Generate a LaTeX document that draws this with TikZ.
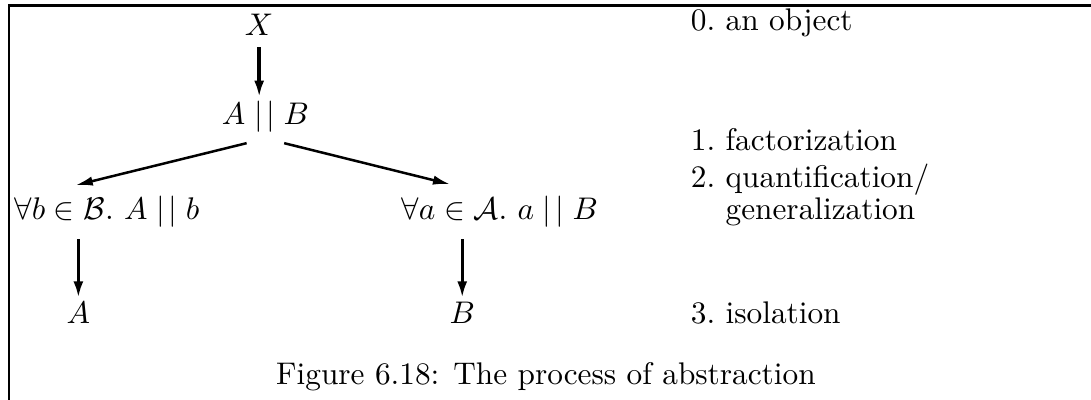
\documentclass[tikz,border=0pt]{standalone}
\usetikzlibrary{arrows.meta}
\newcommand{\bars}{\mathrel{|\mkern2mu|}}

\begin{document}
\begin{tikzpicture}[x=1cm,y=1cm,
  lbl/.style={anchor=base,inner sep=1pt},
  note/.style={anchor=base west,inner sep=0pt},
  vec/.style={-{Latex[length=5.4pt,width=3.2pt]},line width=1.1pt,shorten <=2.5pt},
  fan/.style={-{Latex[length=5.5pt,width=3pt]},line width=0.8pt}]
\useasboundingbox (0,0) rectangle (12.25,4.49);
\draw[line width=0.8pt] (0.10,0) |- (12.25,4.43);
% the tree
\node[lbl] (X) at (2.91,4.09) {$X$};
\node[lbl] (AB) at (2.98,3.09) {$A \bars B$};
\node[lbl] (Lb) at (1.20,2.02) {$\forall b \in \mathcal{B}.\ A \bars b$};
\node[lbl] (Ra) at (5.61,2.02) {$\forall a \in \mathcal{A}.\ a \bars B$};
\node[lbl] (LA) at (0.88,0.86) {$A$};
\node[lbl] (RB) at (5.19,0.86) {$B$};
\draw[vec] (X.south) -- (X.south |- AB.north);
\draw[fan] ([shift={(-6pt,-2.2pt)}]AB.south) -- ([shift={(-10pt,2.4pt)}]Lb.north);
\draw[fan] ([shift={(6pt,-2.2pt)}]AB.south) -- ([shift={(-15.8pt,2.7pt)}]Ra.north);
\draw[vec] (LA.north |- Lb.south) -- (LA.north);
\draw[vec] (RB.north |- Ra.south) -- (RB.north);
% the steps
\node[note] (s0) at (7.75,4.15) {0.\ an object};
\node[note] (s1) at (7.75,2.80) {1.\ factorization};
\node[note] (s2) at (7.75,2.38) {2.\ quantification/};
\node[note] (s2b) at (7.75,2.02) {\phantom{2.}\ generalization};
\node[note] (s3) at (7.75,0.86) {3.\ isolation};
\node[lbl] (cap) at (6.13,0.17) {Figure 6.18: The process of abstraction};
\end{tikzpicture}
\end{document}
